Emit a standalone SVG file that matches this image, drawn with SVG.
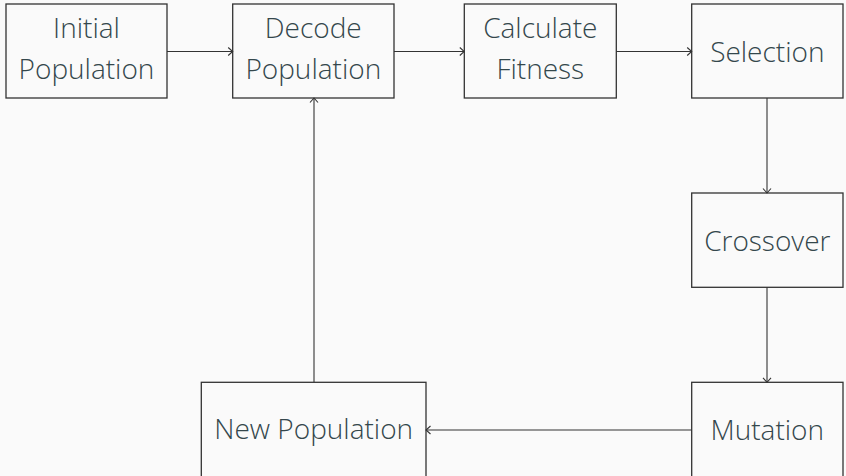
<svg xmlns="http://www.w3.org/2000/svg" width="846" height="476" viewBox="0 0 846 476">
<style>
rect.n{fill:none;stroke:#333;stroke-width:1.3}
text{font-family:"Open Sans","Noto Sans",sans-serif;font-weight:300;font-size:28px;fill:#34474c;text-anchor:middle}
.c{fill:none;stroke:#333;stroke-width:1.1}
</style>
<defs>
<marker id="a" viewBox="0 0 10 10" refX="9" refY="5" markerWidth="10" markerHeight="10" markerUnits="userSpaceOnUse" orient="auto">
<path d="M4.5,1 L9,5 L4.5,9" fill="none" stroke="#333" stroke-width="1.1"/>
</marker>
</defs>
<rect width="846" height="476" fill="#fafafa"/>
<g id="connectors">
<path class="c" d="M167,51.5 H232.7" marker-end="url(#a)"/>
<path class="c" d="M394,51.5 H464.3" marker-end="url(#a)"/>
<path class="c" d="M616.3,51.5 H691.7" marker-end="url(#a)"/>
<path class="c" d="M767,98 V193" marker-end="url(#a)"/>
<path class="c" d="M767,287.3 V382.3" marker-end="url(#a)"/>
<path class="c" d="M691.7,430 H426" marker-end="url(#a)"/>
<path class="c" d="M314,382.3 V98" marker-end="url(#a)"/>
</g>
<g id="initial"><rect class="n" x="6" y="4" width="161" height="94"/><text x="86.5" y="38">Initial</text><text x="86.5" y="79">Population</text></g>
<g id="decode"><rect class="n" x="232.7" y="4" width="161.3" height="94"/><text x="313.3" y="38">Decode</text><text x="313.3" y="79">Population</text></g>
<g id="fitness"><rect class="n" x="464.3" y="4" width="152" height="94"/><text x="540.3" y="38">Calculate</text><text x="540.3" y="79">Fitness</text></g>
<g id="selection"><rect class="n" x="691.7" y="4" width="151.3" height="94"/><text x="767.3" y="62">Selection</text></g>
<g id="crossover"><rect class="n" x="691.7" y="193" width="151.3" height="94.3"/><text x="767.3" y="251">Crossover</text></g>
<g id="mutation"><rect class="n" x="691.7" y="382.3" width="151.3" height="100"/><text x="767.3" y="440">Mutation</text></g>
<g id="newpop"><rect class="n" x="201.3" y="382.3" width="224.7" height="100"/><text x="313.7" y="439">New Population</text></g>
</svg>
